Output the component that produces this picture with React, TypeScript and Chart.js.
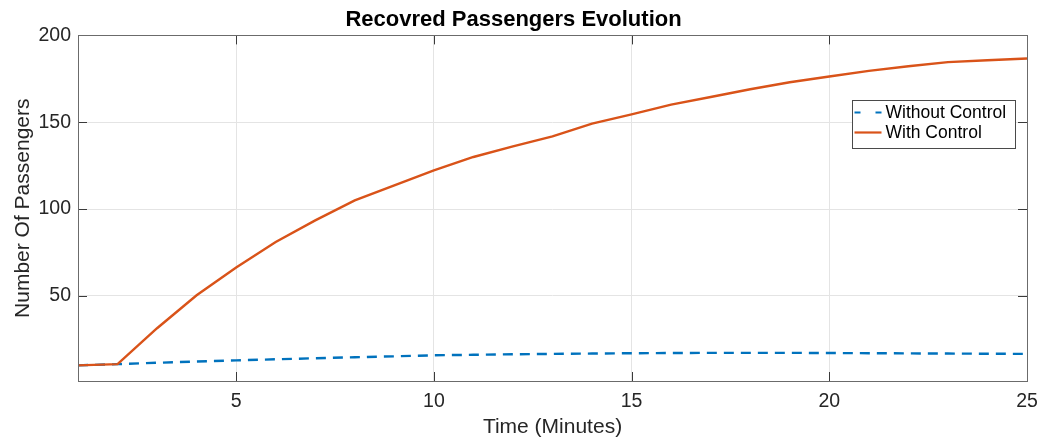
import React, { useEffect, useRef } from "react";
import { Chart, registerables } from "chart.js";

Chart.register(...registerables);

const minutes = [1, 2, 3, 4, 5, 6, 7, 8, 9, 10, 11, 12, 13, 14, 15, 16, 17, 18, 19, 20, 21, 22, 23, 24, 25];
const withoutControl = [10, 10.7, 11.5, 12.2, 12.9, 13.5, 14.1, 14.7, 15.2, 15.8, 16.1, 16.4, 16.6, 16.8, 17.0, 17.1, 17.2, 17.2, 17.2, 17.1, 17.0, 16.9, 16.8, 16.7, 16.6];
const withControl = [10, 10.7, 31.4, 50.4, 66.3, 81, 93.5, 105, 113.7, 122.3, 130, 136.1, 141.9, 149.2, 154.5, 160.1, 164.5, 169, 173, 176.3, 179.6, 182.2, 184.6, 185.7, 186.7];
const xTicks = [5, 10, 15, 20, 25];
const yTicks = [50, 100, 150, 200];
const seriesLabels = ["Without Control", "With Control"];
const seriesColors = ["#0072BD", "#D95319"];
const chartTitle = "Recovred Passengers Evolution";
const xTitle = "Time (Minutes)";
const yTitle = "Number Of Passengers";

const FONT = "'Liberation Sans', Arial, Helvetica, sans-serif";

const boxPlugin = {
  id: "matlabBox",
  afterDatasetsDraw(chart: any) {
    const { ctx, chartArea, scales } = chart;
    const { left, right, top, bottom } = chartArea;
    const x = scales.x;
    const y = scales.y;
    ctx.save();
    ctx.strokeStyle = "#3a3a3a";
    ctx.lineWidth = 1;
    const tl = 9;
    ctx.beginPath();
    xTicks.forEach((v) => {
      const px = Math.round(x.getPixelForValue(v)) + 0.5;
      ctx.moveTo(px, bottom);
      ctx.lineTo(px, bottom - tl);
      ctx.moveTo(px, top);
      ctx.lineTo(px, top + tl);
    });
    yTicks.forEach((v) => {
      const py = Math.round(y.getPixelForValue(v)) + 0.5;
      ctx.moveTo(left, py);
      ctx.lineTo(left + tl, py);
      ctx.moveTo(right, py);
      ctx.lineTo(right - tl, py);
    });
    ctx.stroke();
    ctx.strokeStyle = "#6b6b6b";
    ctx.strokeRect(Math.round(left) + 0.5, Math.round(top) + 0.5, Math.round(right - left), Math.round(bottom - top));

    // legend
    ctx.font = `17.5px ${FONT}`;
    const textW = Math.max(...seriesLabels.map((s) => ctx.measureText(s).width));
    const bw = Math.round(33 + textW + 9);
    const bh = 48;
    const bx = Math.round(right - 12 - bw) + 0.5;
    const by = Math.round(top + 65) + 0.5;
    ctx.fillStyle = "#ffffff";
    ctx.fillRect(bx, by, bw, bh);
    ctx.strokeStyle = "#4a4a4a";
    ctx.strokeRect(bx, by, bw, bh);
    const rows = [12, 32];
    seriesLabels.forEach((label, i) => {
      const ry = by + rows[i];
      ctx.strokeStyle = seriesColors[i];
      ctx.lineWidth = 2.2;
      ctx.setLineDash(i === 0 ? [6, 15] : []);
      ctx.beginPath();
      ctx.moveTo(bx + 2, ry);
      ctx.lineTo(bx + 29, ry);
      ctx.stroke();
      ctx.setLineDash([]);
      ctx.fillStyle = "#000000";
      ctx.textBaseline = "middle";
      ctx.textAlign = "left";
      ctx.fillText(label, bx + 33, ry + 0.5);
    });
    ctx.restore();
  },
};

export default function App() {
  const canvasRef = useRef<HTMLCanvasElement | null>(null);

  useEffect(() => {
    const canvas = canvasRef.current;
    if (!canvas) return;
    const chart = new Chart(canvas, {
      type: "line",
      data: {
        datasets: [
          {
            label: seriesLabels[0],
            data: minutes.map((m, i) => ({ x: m, y: withoutControl[i] })),
            borderColor: seriesColors[0],
            backgroundColor: seriesColors[0],
            borderWidth: 2.4,
            borderDash: [10, 7],
            pointRadius: 0,
            tension: 0,
            order: 1,
          },
          {
            label: seriesLabels[1],
            data: minutes.map((m, i) => ({ x: m, y: withControl[i] })),
            borderColor: seriesColors[1],
            backgroundColor: seriesColors[1],
            borderWidth: 2.4,
            pointRadius: 0,
            tension: 0,
            order: 0,
          },
        ],
      },
      options: {
        responsive: false,
        animation: false,
        layout: { padding: { left: 0, right: 12, top: 0, bottom: 0 } },
        plugins: {
          legend: { display: false },
          tooltip: { enabled: false },
          title: {
            display: true,
            text: chartTitle,
            color: "#000000",
            font: { family: FONT, size: 22, weight: "bold" },
            padding: { top: 6.5, bottom: 2.5 },
          },
        },
        scales: {
          x: {
            type: "linear",
            min: 1,
            max: 25,
            afterBuildTicks: (s: any) => {
              s.ticks = xTicks.map((v) => ({ value: v }));
            },
            afterFit: (s: any) => {
              s.height = 59;
              s.paddingLeft = 0;
              s.paddingRight = 0;
            },
            grid: { color: "#e4e4e4", lineWidth: 1, drawTicks: false },
            border: { display: false },
            ticks: {
              color: "#262626",
              font: { family: FONT, size: 19.5 },
              padding: 9,
              maxRotation: 0,
              autoSkip: false,
            },
            title: {
              display: true,
              text: xTitle,
              color: "#262626",
              font: { family: FONT, size: 21 },
              padding: { top: 0, bottom: 0 },
            },
          },
          y: {
            type: "linear",
            min: 1,
            max: 200,
            afterBuildTicks: (s: any) => {
              s.ticks = yTicks.map((v) => ({ value: v }));
            },
            afterFit: (s: any) => {
              s.width = 78;
              s.paddingTop = 0;
              s.paddingBottom = 0;
            },
            grid: { color: "#e4e4e4", lineWidth: 1, drawTicks: false },
            border: { display: false },
            ticks: {
              color: "#262626",
              font: { family: FONT, size: 19.5 },
              padding: 7,
              autoSkip: false,
            },
            title: {
              display: true,
              text: yTitle,
              color: "#262626",
              font: { family: FONT, size: 21 },
              padding: { top: 11, bottom: 0 },
            },
          },
        },
      },
      plugins: [boxPlugin],
    });
    return () => chart.destroy();
  }, []);

  return (
    <div style={{ position: "fixed", left: 0, top: 0, width: 1039, height: 440, background: "#ffffff" }}>
      <canvas ref={canvasRef} width={1039} height={440} style={{ display: "block", width: 1039, height: 440 }} />
    </div>
  );
}
